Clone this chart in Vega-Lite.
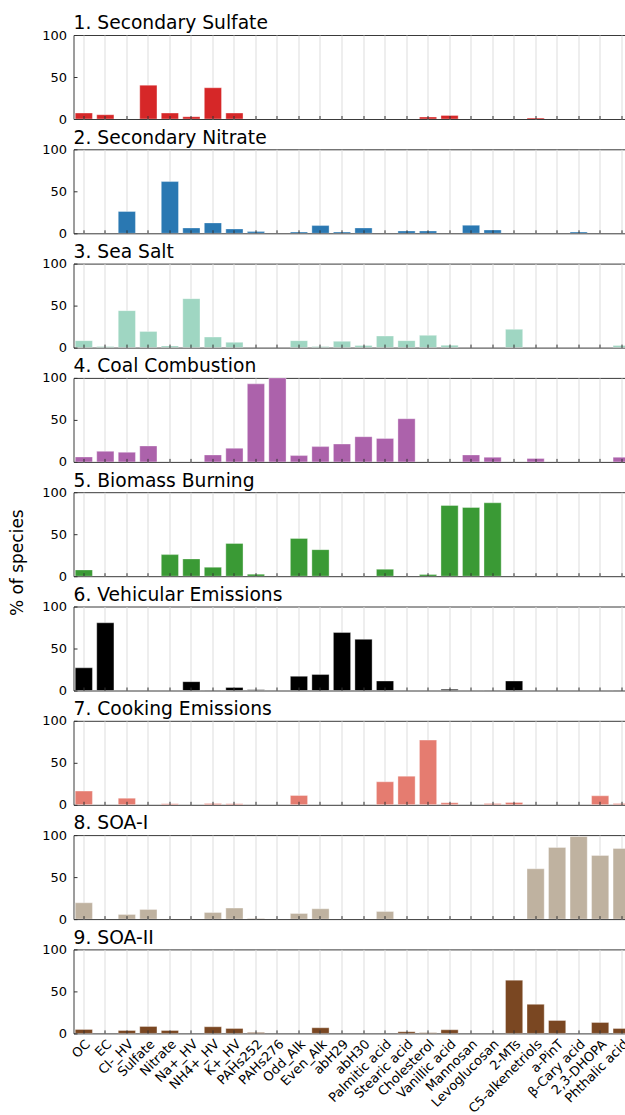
{
  "$schema": "https://vega.github.io/schema/vega-lite/v6.json",
  "background": "white",
  "padding": {"left": 7.5, "top": 13, "right": 0, "bottom": 0},
  "spacing": 30.3,
  "bounds": "flush",
  "datasets": {
    "d": [
      {"p": 1, "s": "OC", "v": 7.1}, {"p": 1, "s": "EC", "v": 5.1}, {"p": 1, "s": "Sulfate", "v": 40.3}, {"p": 1, "s": "Nitrate", "v": 7.1}, {"p": 1, "s": "Na+_HV", "v": 2.8}, {"p": 1, "s": "NH4+_HV", "v": 37.2}, {"p": 1, "s": "K+_HV", "v": 7.1}, {"p": 1, "s": "Cholesterol", "v": 2.4}, {"p": 1, "s": "Vanillic acid", "v": 4.3}, {"p": 1, "s": "C5-alkenetriols", "v": 1.2},
      {"p": 2, "s": "Cl-_HV", "v": 26}, {"p": 2, "s": "Nitrate", "v": 61.6}, {"p": 2, "s": "Na+_HV", "v": 6.4}, {"p": 2, "s": "NH4+_HV", "v": 12.4}, {"p": 2, "s": "K+_HV", "v": 5.2}, {"p": 2, "s": "PAHs252", "v": 2}, {"p": 2, "s": "Odd_Alk", "v": 1.6}, {"p": 2, "s": "Even_Alk", "v": 9.2}, {"p": 2, "s": "abH29", "v": 1.6}, {"p": 2, "s": "abH30", "v": 6.4}, {"p": 2, "s": "Stearic acid", "v": 2.8}, {"p": 2, "s": "Cholesterol", "v": 2.8}, {"p": 2, "s": "Mannosan", "v": 9.6}, {"p": 2, "s": "Levoglucosan", "v": 4}, {"p": 2, "s": "β-Cary acid", "v": 1.6},
      {"p": 3, "s": "OC", "v": 8.3}, {"p": 3, "s": "EC", "v": 1.2}, {"p": 3, "s": "Cl-_HV", "v": 44}, {"p": 3, "s": "Sulfate", "v": 19.3}, {"p": 3, "s": "Nitrate", "v": 2}, {"p": 3, "s": "Na+_HV", "v": 58.3}, {"p": 3, "s": "NH4+_HV", "v": 12.6}, {"p": 3, "s": "K+_HV", "v": 6.3}, {"p": 3, "s": "Odd_Alk", "v": 8.3}, {"p": 3, "s": "Even_Alk", "v": 1.2}, {"p": 3, "s": "abH29", "v": 7.5}, {"p": 3, "s": "abH30", "v": 2.4}, {"p": 3, "s": "Palmitic acid", "v": 13.8}, {"p": 3, "s": "Stearic acid", "v": 8.3}, {"p": 3, "s": "Cholesterol", "v": 14.6}, {"p": 3, "s": "Vanillic acid", "v": 2.8}, {"p": 3, "s": "2-MTs", "v": 21.7}, {"p": 3, "s": "Phthalic acid", "v": 2.4},
      {"p": 4, "s": "OC", "v": 5.9}, {"p": 4, "s": "EC", "v": 12.6}, {"p": 4, "s": "Cl-_HV", "v": 11.5}, {"p": 4, "s": "Sulfate", "v": 19}, {"p": 4, "s": "NH4+_HV", "v": 8.3}, {"p": 4, "s": "K+_HV", "v": 16.2}, {"p": 4, "s": "PAHs252", "v": 92.9}, {"p": 4, "s": "PAHs276", "v": 100}, {"p": 4, "s": "Odd_Alk", "v": 7.5}, {"p": 4, "s": "Even_Alk", "v": 18.2}, {"p": 4, "s": "abH29", "v": 21.3}, {"p": 4, "s": "abH30", "v": 30}, {"p": 4, "s": "Palmitic acid", "v": 28}, {"p": 4, "s": "Stearic acid", "v": 51.4}, {"p": 4, "s": "Mannosan", "v": 8.3}, {"p": 4, "s": "Levoglucosan", "v": 5.5}, {"p": 4, "s": "C5-alkenetriols", "v": 4}, {"p": 4, "s": "Phthalic acid", "v": 5.5},
      {"p": 5, "s": "OC", "v": 7.5}, {"p": 5, "s": "Nitrate", "v": 25.7}, {"p": 5, "s": "Na+_HV", "v": 20.6}, {"p": 5, "s": "NH4+_HV", "v": 10.7}, {"p": 5, "s": "K+_HV", "v": 39}, {"p": 5, "s": "PAHs252", "v": 2.4}, {"p": 5, "s": "Odd_Alk", "v": 45}, {"p": 5, "s": "Even_Alk", "v": 31.6}, {"p": 5, "s": "Palmitic acid", "v": 8.3}, {"p": 5, "s": "Cholesterol", "v": 2}, {"p": 5, "s": "Vanillic acid", "v": 84.2}, {"p": 5, "s": "Mannosan", "v": 81.8}, {"p": 5, "s": "Levoglucosan", "v": 87.4},
      {"p": 6, "s": "OC", "v": 27}, {"p": 6, "s": "EC", "v": 80.6}, {"p": 6, "s": "Na+_HV", "v": 10.5}, {"p": 6, "s": "NH4+_HV", "v": 0.5}, {"p": 6, "s": "K+_HV", "v": 3.6}, {"p": 6, "s": "PAHs252", "v": 0.8}, {"p": 6, "s": "Odd_Alk", "v": 16.9}, {"p": 6, "s": "Even_Alk", "v": 19}, {"p": 6, "s": "abH29", "v": 69}, {"p": 6, "s": "abH30", "v": 60.9}, {"p": 6, "s": "Palmitic acid", "v": 11.3}, {"p": 6, "s": "Vanillic acid", "v": 1.5}, {"p": 6, "s": "Levoglucosan", "v": 0.5}, {"p": 6, "s": "2-MTs", "v": 11.3}, {"p": 6, "s": "Phthalic acid", "v": 0.5},
      {"p": 7, "s": "OC", "v": 16.3}, {"p": 7, "s": "Cl-_HV", "v": 7.9}, {"p": 7, "s": "Nitrate", "v": 1.2}, {"p": 7, "s": "NH4+_HV", "v": 1.6}, {"p": 7, "s": "K+_HV", "v": 1.2}, {"p": 7, "s": "Odd_Alk", "v": 11.1}, {"p": 7, "s": "Palmitic acid", "v": 27.4}, {"p": 7, "s": "Stearic acid", "v": 34.1}, {"p": 7, "s": "Cholesterol", "v": 77}, {"p": 7, "s": "Vanillic acid", "v": 2.4}, {"p": 7, "s": "Levoglucosan", "v": 1.6}, {"p": 7, "s": "2-MTs", "v": 2.8}, {"p": 7, "s": "2,3-DHOPA", "v": 10.7}, {"p": 7, "s": "Phthalic acid", "v": 1.6},
      {"p": 8, "s": "OC", "v": 19.4}, {"p": 8, "s": "Cl-_HV", "v": 5.6}, {"p": 8, "s": "Sulfate", "v": 11.5}, {"p": 8, "s": "NH4+_HV", "v": 7.9}, {"p": 8, "s": "K+_HV", "v": 13.1}, {"p": 8, "s": "PAHs252", "v": 0.8}, {"p": 8, "s": "Odd_Alk", "v": 6.7}, {"p": 8, "s": "Even_Alk", "v": 12.3}, {"p": 8, "s": "Palmitic acid", "v": 9.1}, {"p": 8, "s": "C5-alkenetriols", "v": 59.9}, {"p": 8, "s": "a-PinT", "v": 85.3}, {"p": 8, "s": "β-Cary acid", "v": 98.4}, {"p": 8, "s": "2,3-DHOPA", "v": 75.8}, {"p": 8, "s": "Phthalic acid", "v": 84.1},
      {"p": 9, "s": "OC", "v": 4.7}, {"p": 9, "s": "Cl-_HV", "v": 3.5}, {"p": 9, "s": "Sulfate", "v": 8.3}, {"p": 9, "s": "Nitrate", "v": 3.5}, {"p": 9, "s": "NH4+_HV", "v": 7.9}, {"p": 9, "s": "K+_HV", "v": 5.9}, {"p": 9, "s": "PAHs252", "v": 1.2}, {"p": 9, "s": "Even_Alk", "v": 6.7}, {"p": 9, "s": "Stearic acid", "v": 2}, {"p": 9, "s": "Cholesterol", "v": 0.8}, {"p": 9, "s": "Vanillic acid", "v": 4.3}, {"p": 9, "s": "2-MTs", "v": 63.4}, {"p": 9, "s": "C5-alkenetriols", "v": 34.6}, {"p": 9, "s": "a-PinT", "v": 15.4}, {"p": 9, "s": "2,3-DHOPA", "v": 13}, {"p": 9, "s": "Phthalic acid", "v": 5.9}
    ]
  },
  "data": {"name": "d"},
  "vconcat": [
    {"title": "1. Secondary Sulfate", "width": 552, "height": 84, "transform": [{"filter": "datum.p == 1"}],
     "layer": [
      {"mark": {"type": "bar", "color": "#d62728", "clip": true},
       "encoding": {
        "x": {"field": "s", "type": "nominal", "sort": null, "scale": {"domain": ["OC","EC","Cl-_HV","Sulfate","Nitrate","Na+_HV","NH4+_HV","K+_HV","PAHs252","PAHs276","Odd_Alk","Even_Alk","abH29","abH30","Palmitic acid","Stearic acid","Cholesterol","Vanillic acid","Mannosan","Levoglucosan","2-MTs","C5-alkenetriols","a-PinT","β-Cary acid","2,3-DHOPA","Phthalic acid"], "range": [0, 558.5], "paddingInner": 0.2, "paddingOuter": 0.08}, "axis": {"orient": "bottom", "grid": true, "ticks": false, "labels": false, "domain": false, "title": null, "zindex": 0}},
        "y": {"field": "v", "type": "quantitative", "scale": {"domain": [0, 100]}, "axis": {"values": [0, 50, 100], "title": null, "grid": false, "domain": false, "zindex": 1}}}},
      {"mark": {"type": "bar", "opacity": 0}, "encoding": {"x": {"field": "s", "type": "nominal", "sort": null, "axis": {"orient": "bottom", "grid": false, "ticks": true, "labels": false, "domain": false, "title": null, "zindex": 1}}}}
     ], "resolve": {"axis": {"x": "independent"}}},
    {"title": "2. Secondary Nitrate", "width": 552, "height": 84, "transform": [{"filter": "datum.p == 2"}],
     "layer": [
      {"mark": {"type": "bar", "color": "#2a78b2", "clip": true},
       "encoding": {
        "x": {"field": "s", "type": "nominal", "sort": null, "scale": {"domain": ["OC","EC","Cl-_HV","Sulfate","Nitrate","Na+_HV","NH4+_HV","K+_HV","PAHs252","PAHs276","Odd_Alk","Even_Alk","abH29","abH30","Palmitic acid","Stearic acid","Cholesterol","Vanillic acid","Mannosan","Levoglucosan","2-MTs","C5-alkenetriols","a-PinT","β-Cary acid","2,3-DHOPA","Phthalic acid"], "range": [0, 558.5], "paddingInner": 0.2, "paddingOuter": 0.08}, "axis": {"orient": "bottom", "grid": true, "ticks": false, "labels": false, "domain": false, "title": null, "zindex": 0}},
        "y": {"field": "v", "type": "quantitative", "scale": {"domain": [0, 100]}, "axis": {"values": [0, 50, 100], "title": null, "grid": false, "domain": false, "zindex": 1}}}},
      {"mark": {"type": "bar", "opacity": 0}, "encoding": {"x": {"field": "s", "type": "nominal", "sort": null, "axis": {"orient": "bottom", "grid": false, "ticks": true, "labels": false, "domain": false, "title": null, "zindex": 1}}}}
     ], "resolve": {"axis": {"x": "independent"}}},
    {"title": "3. Sea Salt", "width": 552, "height": 84, "transform": [{"filter": "datum.p == 3"}],
     "layer": [
      {"mark": {"type": "bar", "color": "#9fd6c2", "clip": true},
       "encoding": {
        "x": {"field": "s", "type": "nominal", "sort": null, "scale": {"domain": ["OC","EC","Cl-_HV","Sulfate","Nitrate","Na+_HV","NH4+_HV","K+_HV","PAHs252","PAHs276","Odd_Alk","Even_Alk","abH29","abH30","Palmitic acid","Stearic acid","Cholesterol","Vanillic acid","Mannosan","Levoglucosan","2-MTs","C5-alkenetriols","a-PinT","β-Cary acid","2,3-DHOPA","Phthalic acid"], "range": [0, 558.5], "paddingInner": 0.2, "paddingOuter": 0.08}, "axis": {"orient": "bottom", "grid": true, "ticks": false, "labels": false, "domain": false, "title": null, "zindex": 0}},
        "y": {"field": "v", "type": "quantitative", "scale": {"domain": [0, 100]}, "axis": {"values": [0, 50, 100], "title": null, "grid": false, "domain": false, "zindex": 1}}}},
      {"mark": {"type": "bar", "opacity": 0}, "encoding": {"x": {"field": "s", "type": "nominal", "sort": null, "axis": {"orient": "bottom", "grid": false, "ticks": true, "labels": false, "domain": false, "title": null, "zindex": 1}}}}
     ], "resolve": {"axis": {"x": "independent"}}},
    {"title": "4. Coal Combustion", "width": 552, "height": 84, "transform": [{"filter": "datum.p == 4"}],
     "layer": [
      {"mark": {"type": "bar", "color": "#ac62ab", "clip": true},
       "encoding": {
        "x": {"field": "s", "type": "nominal", "sort": null, "scale": {"domain": ["OC","EC","Cl-_HV","Sulfate","Nitrate","Na+_HV","NH4+_HV","K+_HV","PAHs252","PAHs276","Odd_Alk","Even_Alk","abH29","abH30","Palmitic acid","Stearic acid","Cholesterol","Vanillic acid","Mannosan","Levoglucosan","2-MTs","C5-alkenetriols","a-PinT","β-Cary acid","2,3-DHOPA","Phthalic acid"], "range": [0, 558.5], "paddingInner": 0.2, "paddingOuter": 0.08}, "axis": {"orient": "bottom", "grid": true, "ticks": false, "labels": false, "domain": false, "title": null, "zindex": 0}},
        "y": {"field": "v", "type": "quantitative", "scale": {"domain": [0, 100]}, "axis": {"values": [0, 50, 100], "title": null, "grid": false, "domain": false, "zindex": 1}}}},
      {"mark": {"type": "bar", "opacity": 0}, "encoding": {"x": {"field": "s", "type": "nominal", "sort": null, "axis": {"orient": "bottom", "grid": false, "ticks": true, "labels": false, "domain": false, "title": null, "zindex": 1}}}}
     ], "resolve": {"axis": {"x": "independent"}}},
    {"title": "5. Biomass Burning", "width": 552, "height": 84, "transform": [{"filter": "datum.p == 5"}],
     "layer": [
      {"mark": {"type": "bar", "color": "#3a9a35", "clip": true},
       "encoding": {
        "x": {"field": "s", "type": "nominal", "sort": null, "scale": {"domain": ["OC","EC","Cl-_HV","Sulfate","Nitrate","Na+_HV","NH4+_HV","K+_HV","PAHs252","PAHs276","Odd_Alk","Even_Alk","abH29","abH30","Palmitic acid","Stearic acid","Cholesterol","Vanillic acid","Mannosan","Levoglucosan","2-MTs","C5-alkenetriols","a-PinT","β-Cary acid","2,3-DHOPA","Phthalic acid"], "range": [0, 558.5], "paddingInner": 0.2, "paddingOuter": 0.08}, "axis": {"orient": "bottom", "grid": true, "ticks": false, "labels": false, "domain": false, "title": null, "zindex": 0}},
        "y": {"field": "v", "type": "quantitative", "scale": {"domain": [0, 100]}, "axis": {"values": [0, 50, 100], "title": "% of species", "titleX": -56, "titleY": 70, "titleAngle": -90, "titleAlign": "center", "titleBaseline": "middle", "titleFontSize": 17, "titleFontWeight": "normal", "titleColor": "black", "grid": false, "domain": false, "zindex": 1}}}},
      {"mark": {"type": "bar", "opacity": 0}, "encoding": {"x": {"field": "s", "type": "nominal", "sort": null, "axis": {"orient": "bottom", "grid": false, "ticks": true, "labels": false, "domain": false, "title": null, "zindex": 1}}}}
     ], "resolve": {"axis": {"x": "independent"}}},
    {"title": "6. Vehicular Emissions", "width": 552, "height": 84, "transform": [{"filter": "datum.p == 6"}],
     "layer": [
      {"mark": {"type": "bar", "color": "#000000", "clip": true},
       "encoding": {
        "x": {"field": "s", "type": "nominal", "sort": null, "scale": {"domain": ["OC","EC","Cl-_HV","Sulfate","Nitrate","Na+_HV","NH4+_HV","K+_HV","PAHs252","PAHs276","Odd_Alk","Even_Alk","abH29","abH30","Palmitic acid","Stearic acid","Cholesterol","Vanillic acid","Mannosan","Levoglucosan","2-MTs","C5-alkenetriols","a-PinT","β-Cary acid","2,3-DHOPA","Phthalic acid"], "range": [0, 558.5], "paddingInner": 0.2, "paddingOuter": 0.08}, "axis": {"orient": "bottom", "grid": true, "ticks": false, "labels": false, "domain": false, "title": null, "zindex": 0}},
        "y": {"field": "v", "type": "quantitative", "scale": {"domain": [0, 100]}, "axis": {"values": [0, 50, 100], "title": null, "grid": false, "domain": false, "zindex": 1}}}},
      {"mark": {"type": "bar", "opacity": 0}, "encoding": {"x": {"field": "s", "type": "nominal", "sort": null, "axis": {"orient": "bottom", "grid": false, "ticks": true, "labels": false, "domain": false, "title": null, "zindex": 1}}}}
     ], "resolve": {"axis": {"x": "independent"}}},
    {"title": "7. Cooking Emissions", "width": 552, "height": 84, "transform": [{"filter": "datum.p == 7"}],
     "layer": [
      {"mark": {"type": "bar", "color": "#e57c70", "clip": true},
       "encoding": {
        "x": {"field": "s", "type": "nominal", "sort": null, "scale": {"domain": ["OC","EC","Cl-_HV","Sulfate","Nitrate","Na+_HV","NH4+_HV","K+_HV","PAHs252","PAHs276","Odd_Alk","Even_Alk","abH29","abH30","Palmitic acid","Stearic acid","Cholesterol","Vanillic acid","Mannosan","Levoglucosan","2-MTs","C5-alkenetriols","a-PinT","β-Cary acid","2,3-DHOPA","Phthalic acid"], "range": [0, 558.5], "paddingInner": 0.2, "paddingOuter": 0.08}, "axis": {"orient": "bottom", "grid": true, "ticks": false, "labels": false, "domain": false, "title": null, "zindex": 0}},
        "y": {"field": "v", "type": "quantitative", "scale": {"domain": [0, 100]}, "axis": {"values": [0, 50, 100], "title": null, "grid": false, "domain": false, "zindex": 1}}}},
      {"mark": {"type": "bar", "opacity": 0}, "encoding": {"x": {"field": "s", "type": "nominal", "sort": null, "axis": {"orient": "bottom", "grid": false, "ticks": true, "labels": false, "domain": false, "title": null, "zindex": 1}}}}
     ], "resolve": {"axis": {"x": "independent"}}},
    {"title": "8. SOA-I", "width": 552, "height": 84, "transform": [{"filter": "datum.p == 8"}],
     "layer": [
      {"mark": {"type": "bar", "color": "#bfb2a0", "clip": true},
       "encoding": {
        "x": {"field": "s", "type": "nominal", "sort": null, "scale": {"domain": ["OC","EC","Cl-_HV","Sulfate","Nitrate","Na+_HV","NH4+_HV","K+_HV","PAHs252","PAHs276","Odd_Alk","Even_Alk","abH29","abH30","Palmitic acid","Stearic acid","Cholesterol","Vanillic acid","Mannosan","Levoglucosan","2-MTs","C5-alkenetriols","a-PinT","β-Cary acid","2,3-DHOPA","Phthalic acid"], "range": [0, 558.5], "paddingInner": 0.2, "paddingOuter": 0.08}, "axis": {"orient": "bottom", "grid": true, "ticks": false, "labels": false, "domain": false, "title": null, "zindex": 0}},
        "y": {"field": "v", "type": "quantitative", "scale": {"domain": [0, 100]}, "axis": {"values": [0, 50, 100], "title": null, "grid": false, "domain": false, "zindex": 1}}}},
      {"mark": {"type": "bar", "opacity": 0}, "encoding": {"x": {"field": "s", "type": "nominal", "sort": null, "axis": {"orient": "bottom", "grid": false, "ticks": true, "labels": false, "domain": false, "title": null, "zindex": 1}}}}
     ], "resolve": {"axis": {"x": "independent"}}},
    {"title": "9. SOA-II", "width": 552, "height": 84, "transform": [{"filter": "datum.p == 9"}],
     "layer": [
      {"mark": {"type": "bar", "color": "#7a4722", "clip": true},
       "encoding": {
        "x": {"field": "s", "type": "nominal", "sort": null, "scale": {"domain": ["OC","EC","Cl-_HV","Sulfate","Nitrate","Na+_HV","NH4+_HV","K+_HV","PAHs252","PAHs276","Odd_Alk","Even_Alk","abH29","abH30","Palmitic acid","Stearic acid","Cholesterol","Vanillic acid","Mannosan","Levoglucosan","2-MTs","C5-alkenetriols","a-PinT","β-Cary acid","2,3-DHOPA","Phthalic acid"], "range": [0, 558.5], "paddingInner": 0.2, "paddingOuter": 0.08}, "axis": {"orient": "bottom", "grid": true, "ticks": false, "labels": false, "domain": false, "title": null, "zindex": 0}},
        "y": {"field": "v", "type": "quantitative", "scale": {"domain": [0, 100]}, "axis": {"values": [0, 50, 100], "title": null, "grid": false, "domain": false, "zindex": 1}}}},
      {"mark": {"type": "bar", "opacity": 0}, "encoding": {"x": {"field": "s", "type": "nominal", "sort": null, "axis": {"orient": "bottom", "grid": false, "ticks": true, "labels": true, "labelAngle": -45, "labelAlign": "right", "labelBaseline": "top", "labelPadding": 7.5, "domain": false, "title": null, "zindex": 1}}}}
     ], "resolve": {"axis": {"x": "independent"}}}
  ],
  "config": {
    "font": "DejaVu Sans",
    "view": {"stroke": "#3a3a3a", "strokeWidth": 1},
    "axis": {"labelFont": "DejaVu Sans", "labelFontSize": 13, "labelColor": "black", "tickColor": "#333333", "tickSize": -3.5, "labelPadding": 10.5, "gridColor": "#dddddd", "gridWidth": 1, "titleFont": "DejaVu Sans"},
    "title": {"anchor": "start", "frame": "group", "fontSize": 18.7, "fontWeight": "normal", "color": "black", "offset": -4, "baseline": "bottom", "font": "DejaVu Sans"},
    "bar": {"stroke": "white", "strokeOpacity": 0.35, "strokeWidth": 1}
  }
}
